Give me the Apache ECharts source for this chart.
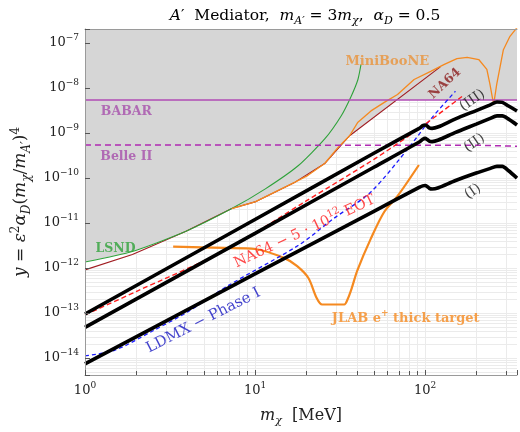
<!DOCTYPE html>
<html>
<head>
<meta charset="utf-8">
<script src="https://cdn.jsdelivr.net/npm/echarts@6/dist/echarts.min.js"></script>
<style>
  html, body { margin: 0; padding: 0; background: #fff; }
  #chart { width: 520px; height: 432px; }
</style>
</head>
<body>
<div id="chart"></div>
<script>
// ---------- axis ranges ----------
const xMin = 1, xMax = 347.5;
const yMin = 4.2e-15, yMax = 2.05e-7;

// ---------- thermal target curves (I), (II), (III) ----------
const blackX  = [1, 10, 50, 93, 97, 100, 103, 106, 110, 120, 150, 200, 240, 265, 285, 310, 347.5];
const curveIII = [9.5e-14, 1.2e-11, 3.55e-10, 1.29e-9, 1.46e-9, 1.51e-9, 1.43e-9, 1.3e-9, 1.27e-9, 1.38e-9, 2.04e-9, 3.16e-9, 4.17e-9, 4.9e-9, 4.79e-9, 3.98e-9, 3.09e-9];
const curveII  = [4.8e-14, 5.9e-12, 1.74e-10, 6.4e-10, 7.3e-10, 7.6e-10, 7.2e-10, 6.6e-10, 6.45e-10, 7.0e-10, 1.02e-9, 1.58e-9, 2.09e-9, 2.4e-9, 2.4e-9, 2.04e-9, 1.51e-9];
const curveI   = [7.4e-15, 7.4e-13, 1.82e-11, 6.3e-11, 6.7e-11, 6.85e-11, 6.5e-11, 5.9e-11, 5.7e-11, 6.1e-11, 8.7e-11, 1.29e-10, 1.62e-10, 1.82e-10, 1.82e-10, 1.45e-10, 1.0e-10];

// ---------- projections ----------
const na64ProjX = [1, 2, 6.7, 20, 50, 90, 165];
const na64ProjY = [9.1e-14, 3.0e-13, 2.5e-12, 3.1e-11, 2.6e-10, 1.17e-9, 6.5e-9];

const ldmxX = [1, 1.5, 2.5, 4, 6.9, 18, 29, 48, 82, 108, 151];
const ldmxY = [1.12e-14, 1.5e-14, 4.0e-14, 1.05e-13, 4.0e-13, 3.2e-12, 1.26e-11, 4.9e-11, 5.25e-10, 2.04e-9, 8.5e-9];

const jlabX = [3.3, 6.6, 10, 14.9, 17.7, 20.6, 23, 24.8, 33.5, 35, 37, 40, 48, 57.6, 69, 92];
const jlabY = [3.0e-12, 2.8e-12, 2.65e-12, 1.66e-12, 1.1e-12, 6.0e-13, 2.2e-13, 1.55e-13, 1.55e-13, 2.0e-13, 3.5e-13, 8.9e-13, 4.5e-12, 1.78e-11, 4.0e-11, 1.95e-10];

// ---------- existing bounds ----------
const lsndX = [1, 1.9, 3.9, 7.3, 11.5, 18, 25.7, 32.1, 36.8, 40.3, 42];
const lsndY = [1.36e-12, 2.34e-12, 6.5e-12, 2.1e-11, 5.75e-11, 1.9e-10, 7.4e-10, 2.4e-9, 6.6e-9, 1.55e-8, 3.3e-8];

const minibooneX = [7.3, 10, 17.2, 20.5, 25.7, 30.8, 36, 40.3, 48.1, 57.6, 68.9, 86.2, 108, 129, 154, 177, 207, 231, 241, 250, 253, 256, 264, 289, 316, 347.5];
const minibooneY = [2.1e-11, 2.95e-11, 8.1e-11, 1.15e-10, 2.1e-10, 4.8e-10, 8.7e-10, 1.74e-9, 3.1e-9, 4.8e-9, 7.2e-9, 1.55e-8, 2.35e-8, 3.3e-8, 4.5e-8, 4.8e-8, 4.3e-8, 2.6e-8, 1.2e-8, 5.6e-9, 4.6e-9, 5.6e-9, 1.2e-8, 7.1e-8, 1.41e-7, 2.2e-7];

const na64X = [1, 1.9, 3.9, 7.3, 10, 17.2, 25.7, 36, 123];
const na64Y = [9.1e-13, 2.0e-12, 6.5e-12, 2.1e-11, 2.95e-11, 8.1e-11, 2.1e-10, 8.7e-10, 2.95e-8];
const na64BoundFrom = 36;   // where the NA64 line leaves the other bounds

const babarX = [1, 347.5];
const babarY = [5.42e-9, 5.42e-9];
const belleX = [1, 200, 347.5];
const belleY = [5.43e-10, 5.35e-10, 5.1e-10];

// ---------- colours / fonts ----------
const SERIF = "'DejaVu Serif', serif";
const GRAY = '#d6d6d6';
const ORANGE = '#f5891f';
const GREEN = '#2fa23a';
const PURPLE = '#b14bb5';
const DARKRED = '#a11d22';
const RED = '#ff1c1c';
const BLUE = '#1b1bff';

function pairs(xs, ys) { return xs.map((x, i) => [x, ys[i]]); }

function rich(color, size, weight) {
    const base = { color: color, fontFamily: SERIF, fontSize: size, fontWeight: weight || 'normal', lineHeight: size + 6 };
    const small = Math.round(size * 0.68);
    return {
        n: base,
        i: Object.assign({}, base, { fontStyle: 'italic' }),
        p: Object.assign({}, base, { fontSize: small, lineHeight: Math.round(size * 0.8), verticalAlign: 'top' }),
        s: Object.assign({}, base, { fontSize: small, fontStyle: 'italic', lineHeight: Math.round(size * 0.8), verticalAlign: 'bottom' })
    };
}

function line(name, xs, ys, color, width, extra) {
    return Object.assign({
        name: name, type: 'line', data: pairs(xs, ys),
        symbol: 'none', showSymbol: false, z: 5, silent: true, clip: true,
        lineStyle: { color: color, width: width }
    }, extra || {});
}

function fill(xs, ys) {
    return {
        type: 'line', data: pairs(xs, ys), symbol: 'none', z: 2, silent: true,
        lineStyle: { width: 0, opacity: 0 },
        areaStyle: { color: GRAY, opacity: 1, origin: 'end' }
    };
}

// grid lines: [x, y, kind]  kind 0 = vertical, 1 = horizontal, 2 = minor x tick
const gridLines = [];
[1, 10, 100].forEach(d => {
    for (let k = 1; k <= 9; k++) {
        const v = k * d;
        if (v <= xMin || v >= xMax) continue;
        gridLines.push([v, yMin, 0]);
        if (k > 1) gridLines.push([v, yMin, 2]);
    }
});
for (let e = -15; e <= -7; e++) {
    for (let k = 1; k <= 9; k++) {
        const v = k * Math.pow(10, e);
        if (v <= yMin || v >= yMax) continue;
        gridLines.push([xMin, v, 1]);
    }
}

function gridSeries(kinds, z, color) {
    return {
        type: 'custom', z: z, silent: true, clip: false,
        data: gridLines.filter(g => kinds.indexOf(g[2]) >= 0),
        renderItem: function (params, api) {
            const kind = api.value(2);
            let a, b;
            if (kind === 1) {
                a = api.coord([xMin, api.value(1)]); b = api.coord([xMax, api.value(1)]);
                const y = Math.round(a[1]) + 0.5;
                return { type: 'line', shape: { x1: a[0], y1: y, x2: b[0], y2: y }, style: { stroke: color, lineWidth: 1 } };
            }
            a = api.coord([api.value(0), yMin]);
            b = kind === 0 ? api.coord([api.value(0), yMax]) : [a[0], a[1] - 4];
            const x = Math.round(a[0]) + 0.5;
            return { type: 'line', shape: { x1: x, y1: a[1], x2: x, y2: b[1] }, style: { stroke: color, lineWidth: 1 } };
        }
    };
}

// text annotations (data coordinates)
const notes = [
    { text: '{n|MiniBooNE}', at: [60, 3.9e-8], color: '#ea9238', size: 13, weight: 'bold', rot: 0 },
    { text: '{n|NA64}', at: [131, 1.26e-8], color: '#8b1a1a', size: 12.5, weight: 'bold', rot: 43 },
    { text: '{n|BABAR}', at: [1.75, 2.95e-9], color: '#a64fab', size: 12.5, weight: 'bold', rot: 0 },
    { text: '{n|Belle II}', at: [1.75, 2.95e-10], color: '#a64fab', size: 12.5, weight: 'bold', rot: 0 },
    { text: '{n|LSND}', at: [1.51, 2.75e-12], color: GREEN, size: 12.5, weight: 'bold', rot: 0 },
    { text: '{n|JLAB e}{p|+}{n| thick target}', at: [77, 7.5e-14], color: ORANGE, size: 13, weight: 'bold', rot: 0 },
    { text: '{n|NA64 − 5 · 10}{p|12}{n| EOT}', at: [19.6, 6.5e-12], color: RED, size: 14.5, weight: 'normal', rot: 25 },
    { text: '{n|LDMX − Phase I}', at: [4.97, 6.8e-14], color: '#1414c0', size: 15, weight: 'normal', rot: 27 },
    { text: '{n|(III)}', at: [190, 5.3e-9], color: '#111', size: 14, weight: 'normal', rot: 35 },
    { text: '{n|(II)}', at: [195, 6.0e-10], color: '#111', size: 14, weight: 'normal', rot: 35 },
    { text: '{n|(I)}', at: [191, 5.0e-11], color: '#111', size: 14, weight: 'normal', rot: 35 }
];

function powLabel(v) {
    const e = Math.log10(v);
    const r = Math.round(e);
    if (Math.abs(e - r) > 1e-6) return '';
    return '{n|10}{p|' + String(r).replace('-', '−') + '}';
}

const chart = echarts.init(document.getElementById('chart'));

const option = {
    animation: false,
    backgroundColor: '#fff',
    graphic: [{
        type: 'text', x: 305, y: 16, z: 20,
        style: {
            text: '{i|A}{n|′  Mediator,  }{i|m}{s|A′}{n| = 3}{i|m}{s|χ}{n|,  }{i|α}{s|D}{n| = 0.5}',
            rich: rich('#222', 15.5),
            align: 'center', verticalAlign: 'middle'
        }
    }],
    grid: { left: 85, right: 0, top: 29, bottom: 54 },
    xAxis: [{
        type: 'log', logBase: 10, min: xMin, max: xMax, splitNumber: 3, z: 10,
        axisLine: { show: true, lineStyle: { color: '#9a9a9a', width: 1 } },
        axisTick: { show: true, inside: true, length: 5, lineStyle: { color: '#555' } },
        splitLine: { show: false },
        axisLabel: { formatter: powLabel, rich: rich('#222', 13), margin: 6, interval: 0 },
        name: '{i|m}{s|χ}{n|  [MeV]}', nameLocation: 'middle', nameGap: 30,
        nameTextStyle: { rich: rich('#222', 16) }
    }, {
        type: 'log', logBase: 10, min: xMin, max: xMax, position: 'top', z: 10,
        axisLine: { show: true, lineStyle: { color: '#9a9a9a', width: 1 } },
        axisTick: { show: false }, axisLabel: { show: false }, splitLine: { show: false }
    }],
    yAxis: [{
        type: 'log', logBase: 10, min: yMin, max: yMax, splitNumber: 8, z: 10,
        axisLine: { show: true, lineStyle: { color: '#9a9a9a', width: 1 } },
        axisTick: { show: true, inside: true, length: 5, lineStyle: { color: '#555' } },
        splitLine: { show: false },
        axisLabel: { formatter: powLabel, rich: rich('#222', 13), margin: 6, interval: 0 },
        name: '{i|y}{n| = }{i|ε}{p|2}{i|α}{s|D}{n|(}{i|m}{s|χ}{n|/}{i|m}{s|A′}{n|)}{p|4}',
        nameLocation: 'middle', nameGap: 48, nameRotate: 90,
        nameTextStyle: { rich: rich('#222', 17) }
    }],
    series: [
        // light grid (below the excluded region)
        gridSeries([0, 1], 1, '#ebebeb'),
        // excluded (gray) region
        fill(lsndX, lsndY),
        fill(minibooneX, minibooneY),
        fill(na64X.filter(x => x >= na64BoundFrom), na64Y.filter((y, i) => na64X[i] >= na64BoundFrom)),
        fill(babarX, babarY),
        // bounds
        line('NA64', na64X, na64Y, DARKRED, 1.1),
        line('LSND', lsndX, lsndY, GREEN, 1.1, { smooth: 0.2 }),
        line('MiniBooNE', minibooneX, minibooneY, ORANGE, 1.3),
        line('BABAR', babarX, babarY, PURPLE, 1.4),
        line('Belle II', belleX, belleY, '#b02ab3', 1.5, { lineStyle: { color: '#b02ab3', width: 1.5, type: [6, 4] } }),
        // projections
        line('JLAB', jlabX, jlabY, ORANGE, 2.2, { smooth: 0.3 }),
        line('LDMX', ldmxX, ldmxY, BLUE, 1.3, { smooth: 0.3, lineStyle: { color: BLUE, width: 1.3, type: [4, 3] } }),
        line('NA64 proj', na64ProjX, na64ProjY, RED, 1.4, { smooth: 0.3, lineStyle: { color: RED, width: 1.4, type: [5, 3] } }),
        // thermal targets
        line('(III)', blackX, curveIII, '#000', 3.6, { smooth: 0.25 }),
        line('(II)', blackX, curveII, '#000', 3.6, { smooth: 0.25 }),
        line('(I)', blackX, curveI, '#000', 3.6, { smooth: 0.25 }),
        // minor x ticks
        gridSeries([2], 9, '#555'),
        // annotations
        {
            type: 'scatter', z: 12, silent: true, symbolSize: 1,
            itemStyle: { color: 'rgba(0,0,0,0)' },
            data: notes.map(n => ({
                value: n.at,
                label: {
                    show: true, position: 'inside', formatter: n.text, rotate: n.rot,
                    rich: rich(n.color, n.size, n.weight)
                }
            }))
        }
    ]
};

chart.setOption(option);
</script>
</body>
</html>
